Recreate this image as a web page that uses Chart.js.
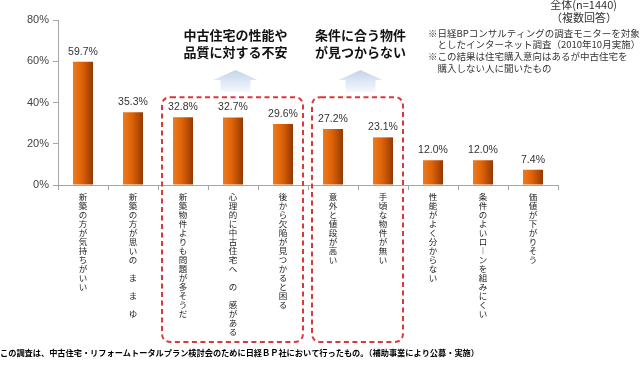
<!DOCTYPE html>
<html lang="ja">
<head>
<meta charset="utf-8">
<script src="https://cdn.jsdelivr.net/npm/chart.js@4.4.1/dist/chart.umd.min.js"></script>
<style>
  html, body { margin: 0; padding: 0; background: #ffffff; }
  #wrap { position: relative; width: 640px; height: 366px; }
</style>
</head>
<body>
<div id="wrap"><canvas id="chart-reasons" width="640" height="366"></canvas></div>
<script>
// 中古住宅を購入しない理由（複数回答）
const categories = [
    '新築の方が気持ちがいい',
    '新築の方が思いの ま ま ゆ',
    '新築物件よりも問題が多そうだ',
    '心理的に中古住宅へ の 感がある',
    '後から欠陥が見つかると困る',
    '意外と値段が高い',
    '手頃な物件が無い',
    '性能がよく分からない',
    '条件のよいロ︱ンを組みにくい',
    '価値が下がりそう'
];
const values = [59.7, 35.3, 32.8, 32.7, 29.6, 27.2, 23.1, 12.0, 12.0, 7.4];
const yTicks = [0, 20, 40, 60, 80];

// 破線で囲むグループ（カテゴリ番号の範囲）
const groups = [
    { from: 2, to: 4, title: ['中古住宅の性能や', '品質に対する不安'] },
    { from: 5, to: 6, title: ['条件に合う物件', 'が見つからない'] }
];

const headerLines = ['全体(n=1440)', '（複数回答）'];
const noteLines = [
    '※日経BPコンサルティングの調査モニターを対象',
    '　としたインターネット調査（2010年10月実施）',
    '※この結果は住宅購入意向はあるが中古住宅を',
    '　購入しない人に聞いたもの'
];
const footer = 'この調査は、中古住宅・リフォームトータルプラン検討会のために日経ＢＰ社において行ったもの。（補助事業により公募・実施）';

const JP = "'Noto Sans CJK JP', 'Noto Sans', sans-serif";
const NUM = "'Liberation Sans', 'DejaVu Sans', sans-serif";

/**
 * 棒ごとに左から右へ暗くなるグラデーションを返す
 */
function barFill(context) {
    const chart = context.chart;
    if (!chart.chartArea) return '#d9600a';
    const x = chart.scales.x.getPixelForValue(context.dataIndex);
    const g = chart.ctx.createLinearGradient(x - 10, 0, x + 10, 0);
    g.addColorStop(0, '#ef7a1e');
    g.addColorStop(0.45, '#de6208');
    g.addColorStop(1, '#953a02');
    return g;
}

// 棒の上に値を描く
const valueLabels = {
    id: 'valueLabels',
    afterDatasetsDraw(chart) {
        const ctx = chart.ctx;
        const meta = chart.getDatasetMeta(0);
        ctx.save();
        ctx.font = `10.5px ${NUM}`;
        ctx.fillStyle = '#333333';
        ctx.textAlign = 'center';
        ctx.textBaseline = 'middle';
        meta.data.forEach((bar, i) => {
            ctx.fillText(values[i].toFixed(1) + '%', bar.x, bar.y - 10);
        });
        ctx.restore();
    }
};

function roundRectPath(ctx, x, y, w, h, r) {
    ctx.beginPath();
    ctx.moveTo(x + r, y);
    ctx.lineTo(x + w - r, y);
    ctx.quadraticCurveTo(x + w, y, x + w, y + r);
    ctx.lineTo(x + w, y + h - r);
    ctx.quadraticCurveTo(x + w, y + h, x + w - r, y + h);
    ctx.lineTo(x + r, y + h);
    ctx.quadraticCurveTo(x, y + h, x, y + h - r);
    ctx.lineTo(x, y + r);
    ctx.quadraticCurveTo(x, y, x + r, y);
    ctx.closePath();
}

function drawArrow(ctx, cx, top, bottom) {
    const headW = 22, shaftW = 15, headH = 10;
    const g = ctx.createLinearGradient(0, top, 0, bottom);
    g.addColorStop(0, '#c3d4ea');
    g.addColorStop(1, '#f6f9fd');
    ctx.beginPath();
    ctx.moveTo(cx, top);
    ctx.lineTo(cx + headW, top + headH);
    ctx.lineTo(cx + shaftW, top + headH);
    ctx.lineTo(cx + shaftW, bottom);
    ctx.lineTo(cx - shaftW, bottom);
    ctx.lineTo(cx - shaftW, top + headH);
    ctx.lineTo(cx - headW, top + headH);
    ctx.closePath();
    ctx.fillStyle = g;
    ctx.fill();
}

// 破線の枠・矢印・見出し・注記
const annotations = {
    id: 'annotations',
    afterDraw(chart) {
        const ctx = chart.ctx;
        const xs = chart.scales.x;
        const ys = chart.scales.y;
        const step = xs.getPixelForValue(1) - xs.getPixelForValue(0);
        const top = ys.getPixelForValue(42.6);
        const bottom = chart.chartArea.bottom + 157;

        ctx.save();
        groups.forEach(gr => {
            const left = xs.getPixelForValue(gr.from) - step / 2 + 4;
            const right = xs.getPixelForValue(gr.to) + step / 2 - 5;
            ctx.setLineDash([5, 3.5]);
            ctx.lineWidth = 2;
            ctx.strokeStyle = '#d9393c';
            roundRectPath(ctx, left, top, right - left, bottom - top, 9);
            ctx.stroke();
            ctx.setLineDash([]);

            const cx = (left + right) / 2 + 3;
            drawArrow(ctx, cx, 70, 92);

            ctx.font = `bold 13px ${JP}`;
            ctx.fillStyle = '#111111';
            ctx.textAlign = 'center';
            ctx.textBaseline = 'middle';
            gr.title.forEach((t, i) => ctx.fillText(t, cx, 35 + i * 17));
        });

        ctx.font = `11px ${JP}`;
        ctx.fillStyle = '#333333';
        ctx.textAlign = 'right';
        ctx.textBaseline = 'middle';
        headerLines.forEach((t, i) => ctx.fillText(t, 617, 5 + i * 13));

        ctx.font = `9.5px ${JP}`;
        ctx.textAlign = 'left';
        noteLines.forEach((t, i) => ctx.fillText(t, 428, 33 + i * 11.7));

        ctx.font = `bold 8.2px ${JP}`;
        ctx.fillStyle = '#000000';
        ctx.fillText(footer, 0, 353);
        ctx.restore();
    }
};

new Chart(document.getElementById('chart-reasons').getContext('2d'), {
    type: 'bar',
    data: {
        // 縦書き風にするため1文字ずつ改行
        labels: categories.map(c => Array.from(c)),
        datasets: [{
            data: values,
            backgroundColor: barFill,
            borderWidth: 0,
            barPercentage: 0.4,
            categoryPercentage: 1.0
        }]
    },
    options: {
        responsive: false,
        animation: false,
        layout: { padding: { top: 20, right: 82, left: 0, bottom: 0 } },
        plugins: {
            legend: { display: false },
            tooltip: { enabled: false }
        },
        scales: {
            x: {
                afterFit(scale) { scale.height = 181; },
                border: { color: '#a6a6a6', width: 1 },
                grid: {
                    offset: true,
                    drawOnChartArea: false,
                    color: '#a6a6a6',
                    tickLength: 5
                },
                ticks: {
                    autoSkip: false,
                    maxRotation: 0,
                    minRotation: 0,
                    padding: 2,
                    color: '#222222',
                    font: { family: JP, size: 8.5, lineHeight: '9px' }
                }
            },
            y: {
                min: 0,
                max: 80,
                afterFit(scale) { scale.width = 58; },
                afterBuildTicks(scale) { scale.ticks = yTicks.map(v => ({ value: v })); },
                border: { color: '#a6a6a6', width: 1 },
                grid: {
                    drawOnChartArea: false,
                    color: '#a6a6a6',
                    tickLength: 5
                },
                ticks: {
                    padding: 4,
                    color: '#444444',
                    font: { family: NUM, size: 11 },
                    callback: v => v + '%'
                }
            }
        }
    },
    plugins: [valueLabels, annotations]
});
</script>
</body>
</html>
